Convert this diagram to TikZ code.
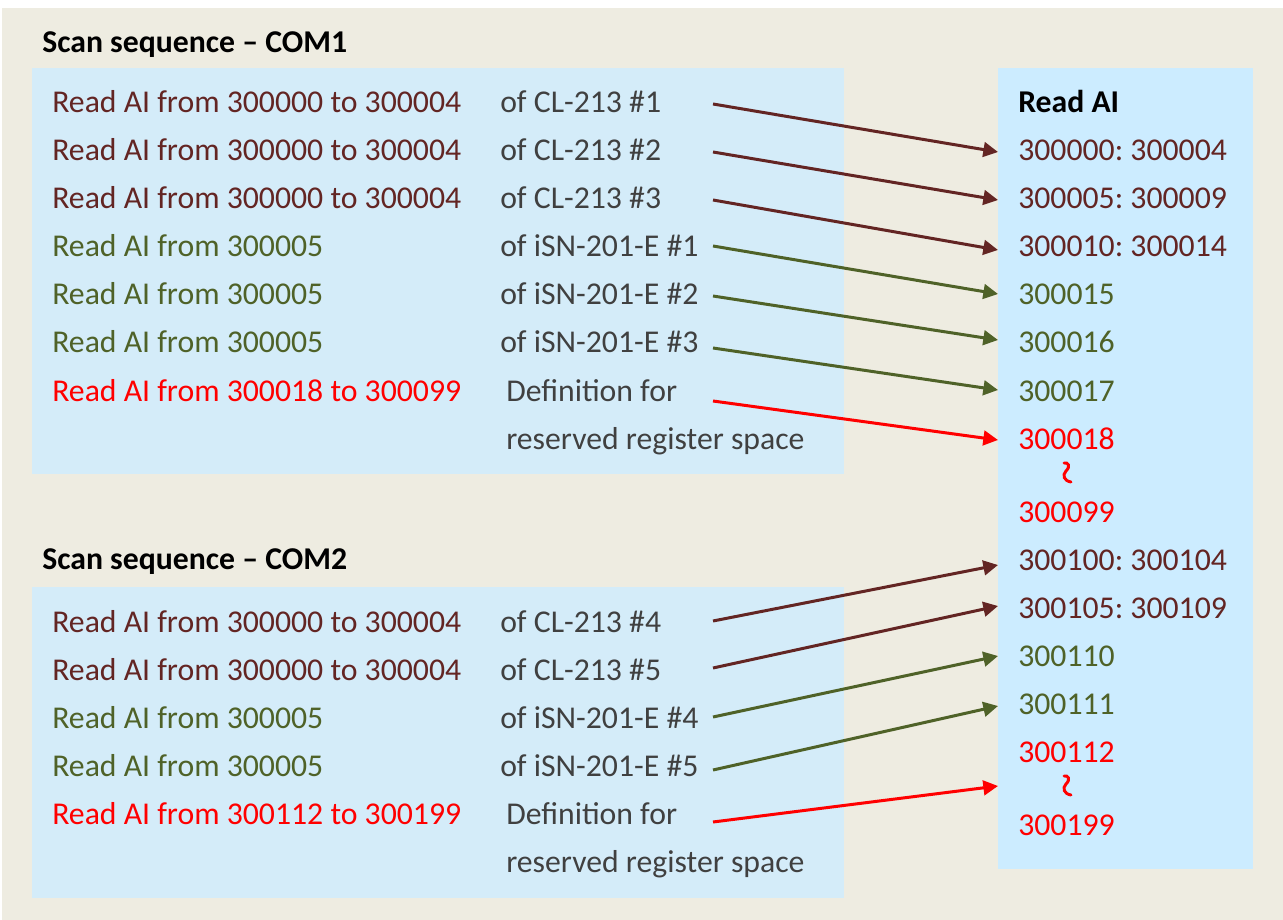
\documentclass[tikz,border=0pt]{standalone}
\usepackage{fontspec}
\setmainfont{Carlito}
\usetikzlibrary{arrows.meta}
\definecolor{bgtan}{HTML}{EEECE1}
\definecolor{leftblue}{HTML}{D4ECF9}
\definecolor{rightblue}{HTML}{CCECFF}
\definecolor{maroon}{HTML}{632523}
\definecolor{olive}{HTML}{4F6228}
\definecolor{greytext}{HTML}{404040}
\definecolor{pured}{HTML}{FF0000}
\frenchspacing
\begin{document}
\begin{tikzpicture}[x=0.75pt,y=-0.75pt,
  txt/.style={inner sep=0pt,anchor=base west,font=\fontsize{23.8}{28}\selectfont},
  ttl/.style={txt,font=\fontsize{23.8}{28}\selectfont\bfseries,text=black},
  mr/.style={txt,text=maroon},
  gr/.style={txt,text=olive},
  rd/.style={txt,text=pured},
  gy/.style={txt,text=greytext},
  conn/.style={line width=2.25pt,-{Triangle[length=11pt,width=11pt]}},
  squig/.style={line width=2.2pt,pured,line cap=round}
]
\useasboundingbox (0,0) rectangle (1283,920);
\fill[white] (0,0) rectangle (1283,920);
\fill[bgtan] (2,8) rectangle (1283,920);
\fill[leftblue] (32,68) rectangle (844,474);
\fill[leftblue] (32,587) rectangle (844,898);
\fill[rightblue] (998,68) rectangle (1253,869);

% titles
\node[ttl] (t1) at (42,53) {Scan sequence -- COM1};
\node[ttl] (t2) at (42,569) {Scan sequence -- COM2};
\node[ttl] (tr) at (1018,113) {Read AI};

% COM1 rows
\node[mr] (a1) at (52,113) {Read AI from 300000 to 300004};
\node[mr] (a2) at (52,161) {Read AI from 300000 to 300004};
\node[mr] (a3) at (52,209) {Read AI from 300000 to 300004};
\node[gr] (a4) at (52,257) {Read AI from 300005};
\node[gr] (a5) at (52,305) {Read AI from 300005};
\node[gr] (a6) at (52,353) {Read AI from 300005};
\node[rd] (a7) at (52,401) {Read AI from 300018 to 300099};
\node[gy] (b1) at (500,113) {of CL-213 \#1};
\node[gy] (b2) at (500,161) {of CL-213 \#2};
\node[gy] (b3) at (500,209) {of CL-213 \#3};
\node[gy] (b4) at (500,257) {of iSN-201-E \#1};
\node[gy] (b5) at (500,305) {of iSN-201-E \#2};
\node[gy] (b6) at (500,353) {of iSN-201-E \#3};
\node[gy] (b7) at (506,401) {Definition for};
\node[gy] (b8) at (506,449) {reserved register space};

% COM2 rows
\node[mr] (c1) at (52,632) {Read AI from 300000 to 300004};
\node[mr] (c2) at (52,680) {Read AI from 300000 to 300004};
\node[gr] (c3) at (52,728) {Read AI from 300005};
\node[gr] (c4) at (52,776) {Read AI from 300005};
\node[rd] (c5) at (52,824) {Read AI from 300112 to 300199};
\node[gy] (d1) at (500,632) {of CL-213 \#4};
\node[gy] (d2) at (500,680) {of CL-213 \#5};
\node[gy] (d3) at (500,728) {of iSN-201-E \#4};
\node[gy] (d4) at (500,776) {of iSN-201-E \#5};
\node[gy] (d5) at (506,824) {Definition for};
\node[gy] (d6) at (506,872) {reserved register space};

% right column
\node[mr] (r1) at (1018,161) {300000: 300004};
\node[mr] (r2) at (1018,209) {300005: 300009};
\node[mr] (r3) at (1018,257) {300010: 300014};
\node[gr] (r4) at (1018,305) {300015};
\node[gr] (r5) at (1018,353) {300016};
\node[gr] (r6) at (1018,401) {300017};
\node[rd] (r7) at (1018,449) {300018};
\node[rd] (r8) at (1018,522) {300099};
\node[mr] (r9) at (1018,570) {300100: 300104};
\node[mr] (r10) at (1018,618) {300105: 300109};
\node[gr] (r11) at (1018,666) {300110};
\node[gr] (r12) at (1018,714) {300111};
\node[rd] (r13) at (1018,762) {300112};
\node[rd] (r14) at (1018,835) {300199};

% squiggles
\draw[squig] (1064,463) .. controls (1068,462) and (1071,466) .. (1066,471) .. controls (1062,475) and (1064,481) .. (1071,482);
\draw[squig] (1064,776) .. controls (1068,775) and (1071,779) .. (1066,784) .. controls (1062,788) and (1064,794) .. (1071,795);

% connector end points
\coordinate (s1) at (713,104); \coordinate (e1) at (998,152);
\coordinate (s2) at (713,152); \coordinate (e2) at (998,200);
\coordinate (s3) at (713,200); \coordinate (e3) at (998,250);
\coordinate (s4) at (713,246); \coordinate (e4) at (998,294);
\coordinate (s5) at (713,296); \coordinate (e5) at (998,340);
\coordinate (s6) at (713,348); \coordinate (e6) at (998,390);
\coordinate (s7) at (713,401); \coordinate (e7) at (998,440);
\coordinate (s8) at (713,621); \coordinate (e8) at (998,565);
\coordinate (s9) at (713,668); \coordinate (e9) at (998,606);
\coordinate (s10) at (713,717); \coordinate (e10) at (998,656);
\coordinate (s11) at (713,770); \coordinate (e11) at (998,706);
\coordinate (s12) at (713,822); \coordinate (e12) at (998,786);

\draw[conn,maroon] (s1) -- (e1);
\draw[conn,maroon] (s2) -- (e2);
\draw[conn,maroon] (s3) -- (e3);
\draw[conn,olive] (s4) -- (e4);
\draw[conn,olive] (s5) -- (e5);
\draw[conn,olive] (s6) -- (e6);
\draw[conn,pured] (s7) -- (e7);
\draw[conn,maroon] (s8) -- (e8);
\draw[conn,maroon] (s9) -- (e9);
\draw[conn,olive] (s10) -- (e10);
\draw[conn,olive] (s11) -- (e11);
\draw[conn,pured] (s12) -- (e12);
\end{tikzpicture}
\end{document}
